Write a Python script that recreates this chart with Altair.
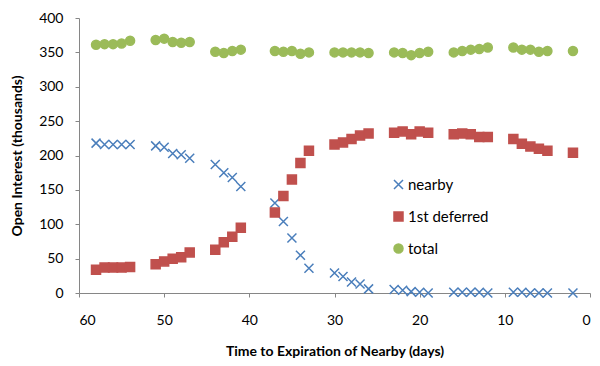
import altair as alt
import pandas as pd

days = [58, 57, 56, 55, 54,
        51, 50, 49, 48, 47,
        44, 43, 42, 41,
        37, 36, 35, 34, 33,
        30, 29, 28, 27, 26,
        23, 22, 21, 20, 19,
        16, 15, 14, 13, 12,
        9, 8, 7, 6, 5,
        2]

nearby = [218, 216, 216, 216, 216,
          214, 212, 203, 201, 196,
          187, 175, 168, 155,
          131, 104, 80, 55, 36,
          29, 24, 16, 13, 6,
          5, 4, 2, 1, 0,
          1, 1, 1, 1, 0,
          1, 1, 0, 0, 0,
          0]

deferred = [34, 37, 37, 37, 38,
            42, 46, 50, 52, 59,
            63, 74, 82, 95,
            117, 141, 165, 189, 207,
            216, 219, 224, 229, 232,
            233, 235, 231, 235, 233,
            231, 232, 231, 227, 227,
            224, 217, 213, 210, 207,
            204]

total = [361, 362, 362, 363, 367,
         368, 370, 365, 364, 365,
         351, 349, 352, 354,
         352, 351, 352, 348, 350,
         350, 350, 350, 350, 349,
         350, 349, 346, 349, 351,
         350, 352, 354, 355, 357,
         357, 354, 354, 351, 352,
         352]

series = ["nearby", "1st deferred", "total"]
colors = ["#4A7EBB", "#C0504D", "#9BBB59"]
fills = ["transparent", "#C0504D", "#9BBB59"]
shapes = ["M-1,-1L1,1M1,-1L-1,1", "square", "circle"]

rows = []
for name, vals in zip(series, [nearby, deferred, total]):
    for d, v in zip(days, vals):
        rows.append({"days": d, "value": v, "series": name})
df = pd.DataFrame(rows)

FONT = "Lato"
legend = alt.Legend(title=None, orient="none", legendX=312, legendY=159)

chart = alt.Chart(df).mark_point(filled=False, size=81, strokeWidth=1.5, opacity=1).encode(
    x=alt.X("days:Q",
            scale=alt.Scale(domain=[0, 60], reverse=True, nice=False),
            axis=alt.Axis(title="Time to Expiration of Nearby (days)", values=[0, 10, 20, 30, 40, 50, 60],
                          grid=False, tickSize=4, labelPadding=16, titlePadding=17)),
    y=alt.Y("value:Q",
            scale=alt.Scale(domain=[0, 400], nice=False),
            axis=alt.Axis(title="Open Interest (thousands)", values=[0, 50, 100, 150, 200, 250, 300, 350, 400],
                          grid=False, tickSize=4, labelPadding=12, titlePadding=14)),
    color=alt.Color("series:N", scale=alt.Scale(domain=series, range=colors), legend=legend),
    fill=alt.Fill("series:N", scale=alt.Scale(domain=series, range=fills), legend=legend),
    shape=alt.Shape("series:N", scale=alt.Scale(domain=series, range=shapes), legend=legend),
).properties(
    width=511, height=275,
    autosize=alt.AutoSizeParams(type="none"),
    padding={"left": 71, "top": 10, "right": 2, "bottom": 65},
).configure_view(
    stroke=None
).configure_axis(
    domainColor="#868686", tickColor="#868686",
    labelFont=FONT, labelFontSize=14, labelColor="#000000",
    titleFont=FONT, titleFontSize=14, titleFontWeight="bold", titleColor="#000000",
).configure_legend(
    labelFont=FONT, labelFontSize=15, labelColor="#000000",
    symbolSize=81, symbolStrokeWidth=1.5, rowPadding=16, labelOffset=2,
)

chart.save("out.html", embed_options={"renderer": "svg", "actions": False})
